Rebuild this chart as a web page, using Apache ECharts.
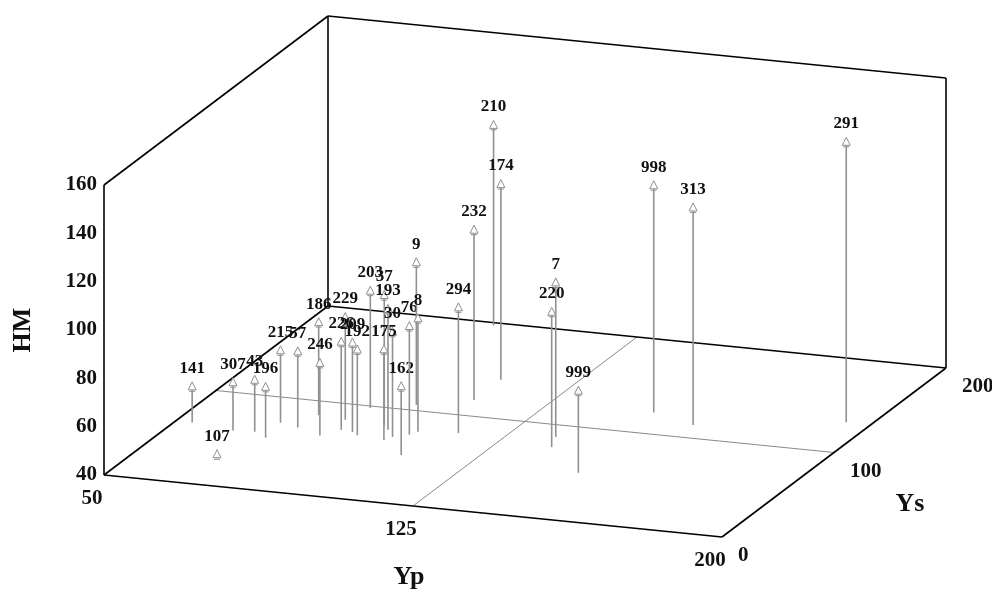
<!DOCTYPE html>
<html>
<head>
<meta charset="utf-8">
<script src="https://cdn.jsdelivr.net/npm/echarts@6/dist/echarts.min.js"></script>
<style>
html, body { margin: 0; padding: 0; background: #fff; }
#main { width: 992px; height: 595px; }
</style>
</head>
<body>
<div id="main"></div>
<script>
// sample numbers and their (Yp, Ys, HM) values
var ids = ['141', '107', '307', '43', '196', '215', '57', '186', '246', '229', '226', '209', '192',
  '203', '37', '193', '30', '175', '162', '76', '9', '8', '294', '232', '210', '174', '7', '220',
  '999', '998', '313', '291'];
var yp = [54, 69, 65, 70, 74, 73, 78, 79, 85, 86, 88, 91, 93,
  88, 96, 98, 101, 100, 108, 104, 97, 105, 114, 108, 91, 108, 136, 138,
  151, 150, 162, 194];
var ys = [64, 31, 60, 61, 56, 73, 70, 85, 64, 83, 72, 71, 68,
  98, 81, 77, 70, 66, 52, 74, 106, 78, 81, 117, 197, 141, 87, 76,
  52, 123, 114, 133];
var hm = [55, 41, 60, 61.5, 61, 70, 71.5, 78.5, 70, 82.5, 76.5, 77, 75.5,
  88.5, 94, 90, 83.5, 77.5, 68.5, 85, 99, 87, 92, 110.5, 123, 121, 104, 96,
  74, 134, 130, 156];

// axes
var ypRange = [50, 200];
var ysRange = [0, 200];
var hmRange = [40, 160];
var ypTicks = [50, 125, 200];
var ysTicks = [0, 100, 200];
var hmTicks = [40, 60, 80, 100, 120, 140, 160];

// parallel projection of the box: origin corner and the screen length of each axis
var view = { ox: 104, oy: 475, px: [618, 62], py: [224, -169], pz: [0, -290] };

function project(p, q, h) {
  var a = (p - ypRange[0]) / (ypRange[1] - ypRange[0]);
  var b = (q - ysRange[0]) / (ysRange[1] - ysRange[0]);
  var c = (h - hmRange[0]) / (hmRange[1] - hmRange[0]);
  return [
    view.ox + a * view.px[0] + b * view.py[0] + c * view.pz[0],
    view.oy + a * view.px[1] + b * view.py[1] + c * view.pz[1]
  ];
}

var p0 = ypRange[0], p1 = ypRange[1];
var q0 = ysRange[0], q1 = ysRange[1];
var h0 = hmRange[0], h1 = hmRange[1];

// box edges (open box, no front-right edges)
var edges = [
  [p0, q0, h0, p0, q0, h1],
  [p0, q0, h1, p0, q1, h1],
  [p0, q1, h0, p0, q1, h1],
  [p0, q1, h1, p1, q1, h1],
  [p1, q1, h0, p1, q1, h1],
  [p0, q0, h0, p1, q0, h0],
  [p1, q0, h0, p1, q1, h0],
  [p0, q1, h0, p1, q1, h0],
  [p0, q0, h0, p0, q1, h0]
];
// floor grid at the middle ticks
var gridLines = [
  [ypTicks[1], q0, h0, ypTicks[1], q1, h0],
  [p0, ysTicks[1], h0, p1, ysTicks[1], h0]
];

var tickFont = 'bold 21px "Liberation Serif", "Times New Roman", serif';
var labels = [];
hmTicks.forEach(function (t) {
  labels.push({ pos: [p0, q0, t], off: [-7, 0], text: String(t), align: 'right', font: tickFont });
});
ypTicks.forEach(function (t) {
  labels.push({ pos: [t, q0, h0], off: [-12, 24], text: String(t), align: 'center', font: tickFont });
});
ysTicks.forEach(function (t) {
  labels.push({ pos: [p1, t, h0], off: [16, 19], text: String(t), align: 'left', font: tickFont });
});
var titleFont = 'bold 26px "Liberation Serif", "Times New Roman", serif';
labels.push({ pos: [(p0 + p1) / 2, q0, h0], off: [-4, 71], text: 'Yp', align: 'center', font: titleFont });
labels.push({ pos: [p1, ysTicks[1], h0], off: [76, 52], text: 'Ys', align: 'center', font: titleFont });
labels.push({ pos: [p0, q0, (h0 + h1) / 2], off: [-81, 0], text: 'HM', align: 'center', font: titleFont, rot: Math.PI / 2 });

function lineItem(color, width) {
  return function (params, api) {
    var a = api.coord(project(api.value(0), api.value(1), api.value(2)));
    var b = api.coord(project(api.value(3), api.value(4), api.value(5)));
    return {
      type: 'line',
      shape: { x1: a[0], y1: a[1], x2: b[0], y2: b[1] },
      style: { stroke: color, lineWidth: width }
    };
  };
}

var chart = echarts.init(document.getElementById('main'));

var option = {
  animation: false,
  backgroundColor: '#fff',
  grid: { left: 0, right: 0, top: 0, bottom: 0 },
  xAxis: { type: 'value', min: 0, max: 992, show: false },
  yAxis: { type: 'value', min: 0, max: 595, inverse: true, show: false },
  series: [
    {
      type: 'custom',
      name: 'grid',
      silent: true,
      renderItem: lineItem('#8a8a8a', 1),
      data: gridLines
    },
    {
      type: 'custom',
      name: 'box',
      silent: true,
      renderItem: lineItem('#000', 1.6),
      data: edges
    },
    {
      type: 'custom',
      name: 'points',
      renderItem: function (params, api) {
        var p = api.value(0), q = api.value(1), h = api.value(2);
        var top = api.coord(project(p, q, h));
        var foot = api.coord(project(p, q, h0));
        var x = top[0], y = top[1];
        return {
          type: 'group',
          children: [
            {
              type: 'line',
              shape: { x1: x, y1: y + 4, x2: foot[0], y2: foot[1] },
              style: { stroke: '#909090', lineWidth: 1.6 }
            },
            {
              type: 'polygon',
              shape: { points: [[x, y - 4.5], [x - 4, y + 3.5], [x + 4, y + 3.5]] },
              style: { fill: '#fff', stroke: '#909090', lineWidth: 1 }
            },
            {
              type: 'line',
              shape: { x1: x - 3, y1: y + 5, x2: x + 3, y2: y + 5 },
              style: { stroke: '#909090', lineWidth: 1 }
            },
            {
              type: 'text',
              x: x,
              y: y - 18,
              style: {
                text: ids[params.dataIndex],
                fill: '#111',
                font: 'bold 17px "Liberation Serif", "Times New Roman", serif',
                align: 'center',
                verticalAlign: 'middle'
              }
            }
          ]
        };
      },
      data: yp.map(function (v, i) { return [v, ys[i], hm[i]]; })
    },
    {
      type: 'custom',
      name: 'labels',
      silent: true,
      renderItem: function (params, api) {
        var l = labels[params.dataIndex];
        var s = api.coord(project(l.pos[0], l.pos[1], l.pos[2]));
        return {
          type: 'text',
          x: s[0] + l.off[0],
          y: s[1] + l.off[1],
          rotation: l.rot || 0,
          style: {
            text: l.text,
            fill: '#111',
            font: l.font,
            align: l.align,
            verticalAlign: 'middle'
          }
        };
      },
      data: labels.map(function (l, i) { return [i, 0]; })
    }
  ]
};

chart.setOption(option);
</script>
</body>
</html>
